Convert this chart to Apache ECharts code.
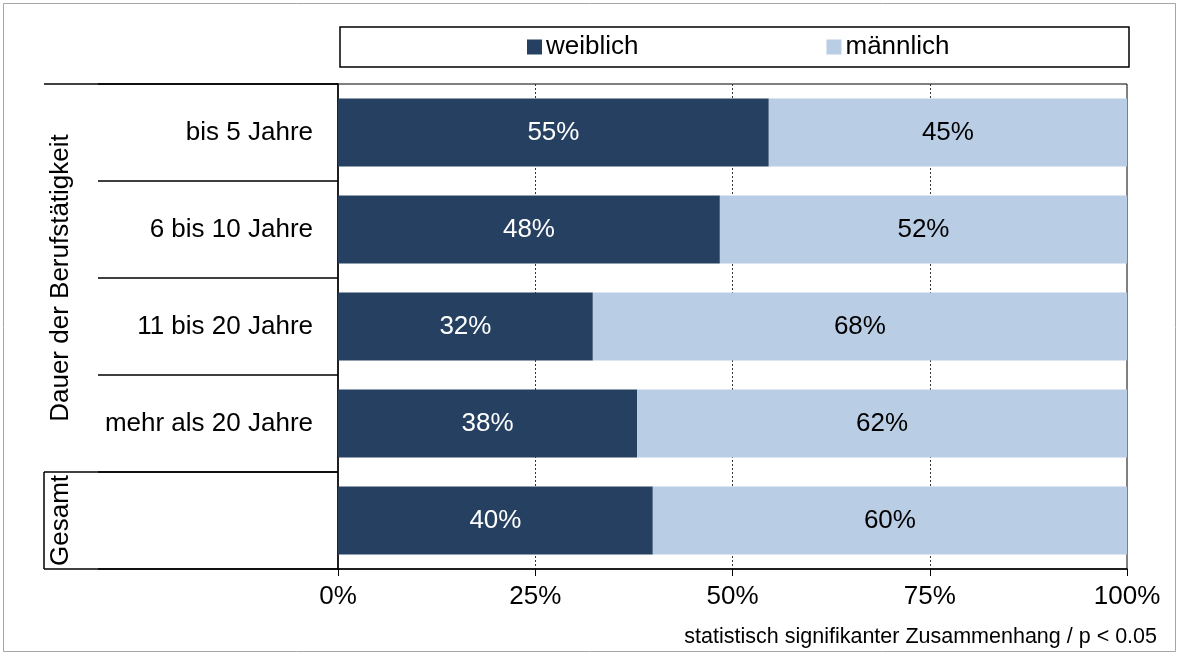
<!DOCTYPE html>
<html>
<head>
<meta charset="utf-8">
<script src="https://cdn.jsdelivr.net/npm/echarts@6/dist/echarts.min.js"></script>
<style>
  html, body { margin: 0; padding: 0; background: #fff; }
  #chart { width: 1180px; height: 655px; }
</style>
</head>
<body>
<div id="chart"></div>
<script>
const categories = ['bis 5 Jahre', '6 bis 10 Jahre', '11 bis 20 Jahre', 'mehr als 20 Jahre', 'Gesamt']
const weiblich = [54.6, 48.4, 32.3, 37.9, 39.9]
const maennlich = [45.4, 51.6, 67.7, 62.1, 60.1]
const xTicks = [0, 25, 50, 75, 100]
const groupName = 'Dauer der Berufstätigkeit'
const totalName = 'Gesamt'
const note = 'statistisch signifikanter Zusammenhang / p < 0.05'

const sans = '"Liberation Sans", Arial, sans-serif'

const chart = echarts.init(document.getElementById('chart'))

const option = {
  animation: false,
  color: ['#264061', '#B9CDE5'],
  textStyle: { fontFamily: sans },
  legend: {
    data: ['weiblich', 'männlich'],
    top: 34,
    left: 527,
    padding: 0,
    icon: 'rect',
    itemWidth: 15,
    itemHeight: 15,
    itemGap: 188,
    textStyle: { fontSize: 26, color: '#000', padding: [0, 0, 0, -1] }
  },
  grid: {
    left: 338,
    right: 53,
    top: 84,
    bottom: 86,
    show: true,
    borderColor: '#000',
    borderWidth: 1
  },
  xAxis: {
    type: 'value',
    min: 0,
    max: 100,
    interval: 25,
    axisLine: { show: true, lineStyle: { color: '#000', width: 1.5 } },
    axisTick: { show: true, length: 7, lineStyle: { color: '#000' } },
    axisLabel: {
      margin: 15,
      fontSize: 26,
      color: '#000',
      formatter: v => (xTicks.indexOf(v) >= 0 ? v + '%' : '')
    },
    splitLine: {
      show: true,
      showMinLine: false,
      showMaxLine: false,
      lineStyle: { color: '#333', type: [2, 2], width: 1 }
    }
  },
  yAxis: {
    type: 'category',
    inverse: true,
    data: categories,
    axisLine: { show: true, lineStyle: { color: '#000', width: 1.5 } },
    axisTick: { show: true, length: 240, lineStyle: { color: '#000', width: 1.5 } },
    axisLabel: {
      margin: 25,
      fontSize: 26,
      color: '#000',
      formatter: v => (v === totalName ? '' : v)
    }
  },
  series: [
    {
      name: 'weiblich',
      type: 'bar',
      stack: 'total',
      barCategoryGap: '30%',
      data: weiblich,
      label: {
        show: true,
        position: 'inside',
        color: '#fff',
        fontSize: 26,
        formatter: p => Math.round(p.value) + '%'
      }
    },
    {
      name: 'männlich',
      type: 'bar',
      stack: 'total',
      data: maennlich,
      label: {
        show: true,
        position: 'inside',
        color: '#000',
        fontSize: 26,
        formatter: p => Math.round(p.value) + '%'
      }
    }
  ]
}

chart.setOption(option)

// decorations: outer frame, legend box, group brackets, note
const p0 = chart.convertToPixel({ gridIndex: 0 }, [0, 0])
const p1 = chart.convertToPixel({ gridIndex: 0 }, [100, 1])
const band = p1[1] - p0[1]
const plotTop = p0[1] - band / 2
const lastTop = plotTop + band * (categories.length - 1)
const plotBottom = plotTop + band * categories.length
const gx = 44
const plotLeft = p0[0]
const plotRight = p1[0]

chart.setOption({
  graphic: [
    { type: 'rect', shape: { x: 3.5, y: 3.5, width: 1172, height: 648 }, style: { fill: 'none', stroke: '#a6a6a6', lineWidth: 1 }, silent: true },
    { type: 'rect', shape: { x: plotLeft + 2, y: 27, width: plotRight - plotLeft, height: 40 }, style: { fill: 'none', stroke: '#000', lineWidth: 1.5 }, z: -1, silent: true },
    { type: 'line', shape: { x1: gx, y1: plotTop, x2: plotLeft, y2: plotTop }, style: { stroke: '#000', lineWidth: 1.5 } },
    { type: 'line', shape: { x1: gx, y1: lastTop, x2: plotLeft, y2: lastTop }, style: { stroke: '#000', lineWidth: 1.5 } },
    { type: 'line', shape: { x1: gx, y1: plotBottom, x2: plotLeft, y2: plotBottom }, style: { stroke: '#000', lineWidth: 1.5 } },
    { type: 'line', shape: { x1: gx, y1: lastTop, x2: gx, y2: plotBottom }, style: { stroke: '#000', lineWidth: 1.5 } },
    {
      type: 'text', x: 61, y: (plotTop + lastTop) / 2, rotation: Math.PI / 2,
      style: { text: groupName, fontSize: 26, fill: '#000', fontFamily: sans, align: 'center', verticalAlign: 'middle' }
    },
    {
      type: 'text', x: 61, y: (lastTop + plotBottom) / 2, rotation: Math.PI / 2,
      style: { text: totalName, fontSize: 26, fill: '#000', fontFamily: sans, align: 'center', verticalAlign: 'middle' }
    },
    {
      type: 'text', x: 1157, y: 637,
      style: { text: note, fontSize: 21.5, fill: '#000', fontFamily: sans, align: 'right', verticalAlign: 'middle' }
    }
  ]
})
</script>
</body>
</html>
